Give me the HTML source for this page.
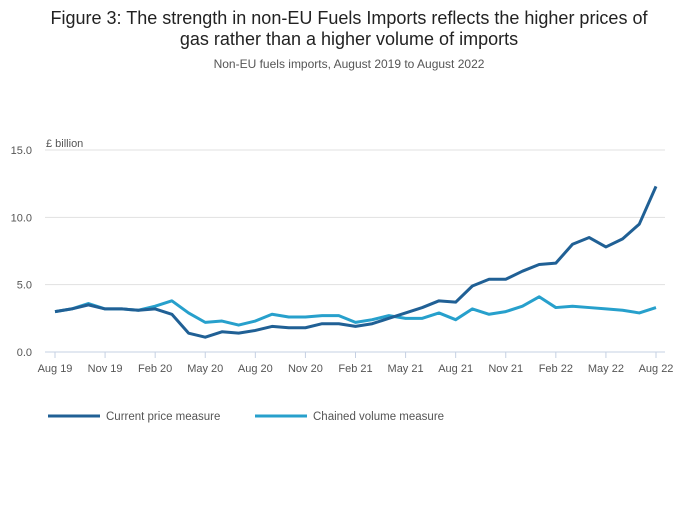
<!DOCTYPE html>
<html><head><meta charset="utf-8"><style>
body{margin:0;background:#fff;font-family:"Liberation Sans",sans-serif;}
#wrap{position:relative;width:700px;height:502px;}
</style></head><body>
<div id="wrap">
<svg id="chart" width="700" height="502">
<text x="349" y="24" text-anchor="middle" font-size="18" fill="#222">Figure 3: The strength in non-EU Fuels Imports reflects the higher prices of</text>
<text x="349" y="45" text-anchor="middle" font-size="18" fill="#222">gas rather than a higher volume of imports</text>
<text x="349" y="68" text-anchor="middle" font-size="12" fill="#555">Non-EU fuels imports, August 2019 to August 2022</text>
<text x="46" y="147" font-size="11" fill="#555">£ billion</text>
<g id="grid"></g><g id="xaxis"></g><g id="series"></g>
<g>
<line x1="48" y1="416" x2="100" y2="416" stroke="#206095" stroke-width="3"/>
<text x="106" y="420" font-size="11.5" fill="#555">Current price measure</text>
<line x1="255" y1="416" x2="307" y2="416" stroke="#27a0cc" stroke-width="3"/>
<text x="313" y="420" font-size="11.5" fill="#555">Chained volume measure</text>
</g>
</svg></div>
<script>
const yTicks=[0,5,10,15];
const yTickLabels=["0.0","5.0","10.0","15.0"];
const xLabels=["Aug 19","Nov 19","Feb 20","May 20","Aug 20","Nov 20","Feb 21","May 21","Aug 21","Nov 21","Feb 22","May 22","Aug 22"];
const currentPrice=[3.0,3.2,3.5,3.2,3.2,3.1,3.2,2.8,1.4,1.1,1.5,1.4,1.6,1.9,1.8,1.8,2.1,2.1,1.9,2.1,2.5,2.9,3.3,3.8,3.7,4.9,5.4,5.4,6.0,6.5,6.6,8.0,8.5,7.8,8.4,9.5,12.3];
const chainedVolume=[3.0,3.2,3.6,3.2,3.2,3.1,3.4,3.8,2.9,2.2,2.3,2.0,2.3,2.8,2.6,2.6,2.7,2.7,2.2,2.4,2.7,2.5,2.5,2.9,2.4,3.2,2.8,3.0,3.4,4.1,3.3,3.4,3.3,3.2,3.1,2.9,3.3];
const NS="http://www.w3.org/2000/svg";
const x0=55,x1=656,y0=352,yTop=150;
const xs=i=>x0+(x1-x0)*i/(currentPrice.length-1);
const ys=v=>y0-(y0-yTop)*v/15;
function mk(t,a,p){const e=document.createElementNS(NS,t);for(const k in a)e.setAttribute(k,a[k]);p.appendChild(e);return e;}
const grid=document.getElementById('grid');
yTicks.forEach((v,i)=>{
  const l=mk('line',{x1:45,x2:665,y1:ys(v),y2:ys(v),stroke:i===0?'#c5d0e3':'#e1e1e1','stroke-width':1},grid);
  
  
  const t=mk('text',{x:32,y:ys(v)+4,'text-anchor':'end','font-size':11,fill:'#555'},grid);
  t.textContent=yTickLabels[i];
  
  
});
const xa=document.getElementById('xaxis');
xLabels.forEach((s,i)=>{
  const x=xs(i*3);
  const l=mk('line',{x1:x,x2:x,y1:y0,y2:y0+6,stroke:'#c5d0e3'},xa);
  
  
  const t=mk('text',{x:x,y:372,'text-anchor':'middle','font-size':11,fill:'#555'},xa);
  t.textContent=s;
  
  
});
const sg=document.getElementById('series');
[[chainedVolume,'#27a0cc','chained-volume-line'],[currentPrice,'#206095','current-price-line']].forEach(([d,c,n])=>{
  const p=mk('polyline',{points:d.map((v,i)=>xs(i)+','+ys(v)).join(' '),fill:'none',stroke:c,'stroke-width':3,'stroke-linejoin':'round'},sg);
  
  
});
</script>
</body></html>
